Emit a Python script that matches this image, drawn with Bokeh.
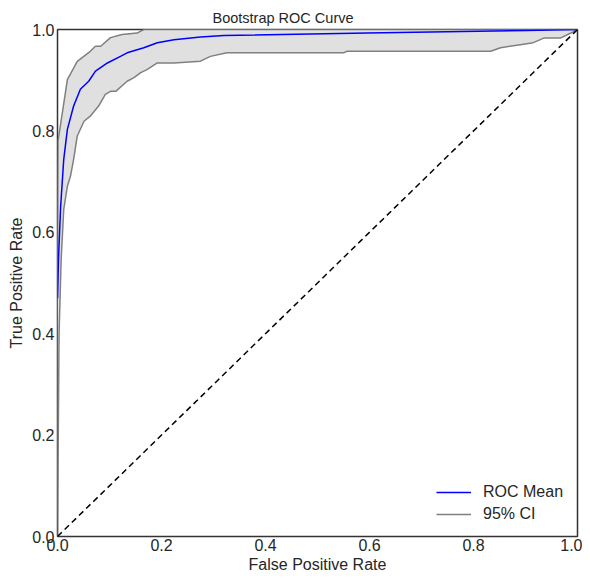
from bokeh.plotting import figure
from bokeh.embed import file_html
from bokeh.resources import INLINE
from bokeh.models import Range1d, Legend, LegendItem, FixedTicker, PrintfTickFormatter

# Mean ROC curve
mean_fpr = [0.0, 0.002, 0.006, 0.012, 0.019, 0.031, 0.044, 0.06, 0.073, 0.096, 0.121,
            0.134, 0.166, 0.192, 0.224, 0.275, 0.32, 0.596, 0.9, 1.0]
mean_tpr = [0.47, 0.55, 0.65, 0.744, 0.803, 0.849, 0.882, 0.898, 0.918, 0.934, 0.947,
            0.954, 0.964, 0.974, 0.980, 0.985, 0.988, 0.993, 0.998, 1.0]

# Lower 95% CI
lower_fpr = [0.0, 0.003, 0.007, 0.012, 0.019, 0.025, 0.031, 0.038, 0.051, 0.063, 0.079,
             0.092, 0.102, 0.112, 0.134, 0.147, 0.160, 0.172, 0.192, 0.224, 0.275, 0.294,
             0.326, 0.55, 0.557, 0.833, 0.852, 0.89, 0.915, 0.935, 0.967, 0.987, 1.0]
lower_tpr = [0.0, 0.40, 0.546, 0.645, 0.691, 0.711, 0.744, 0.79, 0.819, 0.829, 0.849,
             0.872, 0.878, 0.878, 0.898, 0.905, 0.915, 0.921, 0.934, 0.934, 0.9375, 0.947,
             0.954, 0.954, 0.957, 0.957, 0.964, 0.970, 0.974, 0.983, 0.983, 0.993, 1.0]

# Upper 95% CI
upper_fpr = [0.0, 0.001, 0.019, 0.038, 0.063, 0.073, 0.083, 0.102, 0.124, 0.153, 0.166, 1.0]
upper_tpr = [0.47, 0.78, 0.901, 0.937, 0.957, 0.967, 0.967, 0.984, 0.990, 0.993, 1.0, 1.0]

diag = [0.0, 1.0]
ticks = [0.0, 0.2, 0.4, 0.6, 0.8, 1.0]

p = figure(output_backend="svg", toolbar_location=None,
           frame_width=520, frame_height=507,
           min_border_left=57, min_border_right=5, min_border_top=29, min_border_bottom=0,
           x_range=Range1d(0, 1), y_range=Range1d(0, 1),
           title="Bootstrap ROC Curve")
p.background_fill_color = "white"
p.border_fill_color = "white"
p.outline_line_color = "#333333"
p.outline_line_width = 1.5
p.grid.visible = False

p.title.align = "left"
p.title.offset = 155
p.title.text_font = "Liberation Sans"
p.title.text_font_size = "14.5px"
p.title.text_font_style = "normal"
p.title.text_color = "#262626"
p.title.standoff = 7

for ax in (p.xaxis, p.yaxis):
    ax.ticker = FixedTicker(ticks=ticks)
    ax.formatter = PrintfTickFormatter(format="%.1f")
    ax.axis_line_color = None
    ax.major_tick_line_color = None
    ax.minor_tick_line_color = None
    ax.major_tick_out = 0
    ax.major_tick_in = 0
    ax.major_label_text_font = "Liberation Sans"
    ax.major_label_text_font_size = "16px"
    ax.major_label_text_color = "#262626"
    ax.axis_label_text_font = "Liberation Sans"
    ax.axis_label_text_font_size = "16px"
    ax.axis_label_text_font_style = "normal"
    ax.axis_label_text_color = "#262626"
p.xaxis.major_label_standoff = 2
p.xaxis.axis_label_standoff = 2
p.yaxis.major_label_standoff = 3
p.yaxis.axis_label_standoff = 4
p.xaxis.axis_label = "False Positive Rate"
p.yaxis.axis_label = "True Positive Rate"

# CI band
band_x = lower_fpr + upper_fpr[::-1]
band_y = lower_tpr + upper_tpr[::-1]
p.patch(band_x, band_y, fill_color="#e0e0e0", line_color=None)

ci_l = p.line(lower_fpr, lower_tpr, line_color="gray", line_width=1.5)
p.line(upper_fpr, upper_tpr, line_color="gray", line_width=1.5)
mean_r = p.line(mean_fpr, mean_tpr, line_color="blue", line_width=1.5)
p.line(diag, diag, line_color="black", line_width=1.5, line_dash="6 4")

legend = Legend(items=[LegendItem(label="ROC Mean", renderers=[mean_r]),
                       LegendItem(label="95% CI", renderers=[ci_l])],
                location="bottom_right")
legend.border_line_color = None
legend.background_fill_alpha = 0
legend.label_text_font = "Liberation Sans"
legend.label_text_font_size = "16px"
legend.label_text_color = "#262626"
legend.glyph_width = 35
legend.label_standoff = 12
legend.label_width = 82
legend.spacing = 2
legend.margin = 12
legend.padding = 11
p.add_layout(legend)

open("out.html", "w").write(file_html(p, INLINE))
